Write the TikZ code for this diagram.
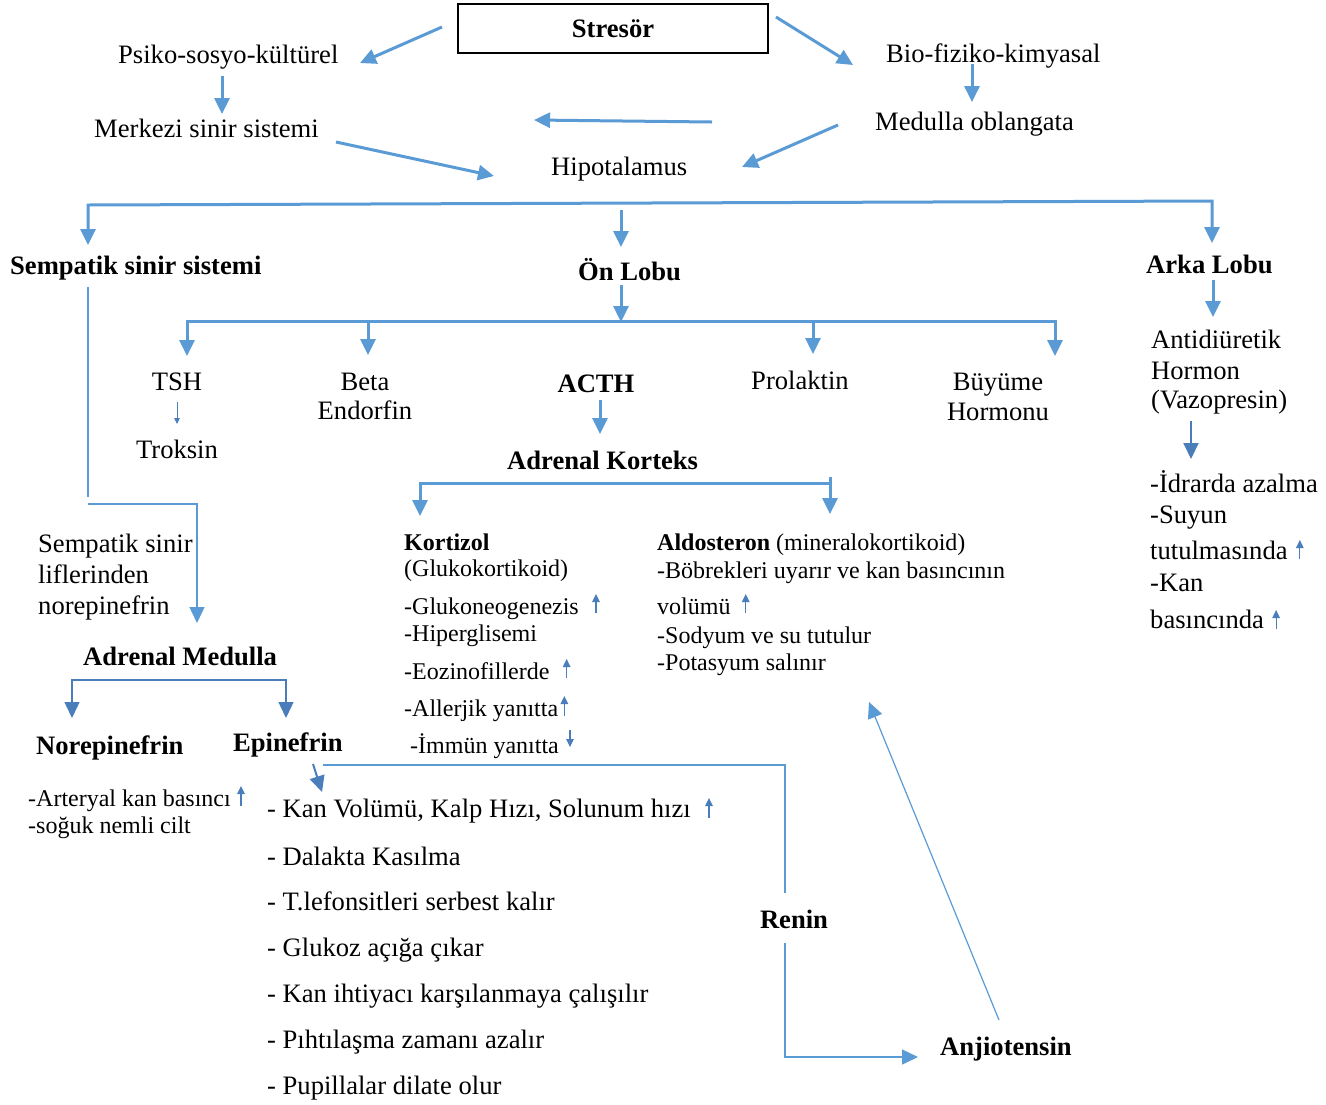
\documentclass[tikz,border=0pt]{standalone}
\usepackage{fontspec}
\setmainfont{Liberation Serif}
\usetikzlibrary{arrows.meta,calc}
\definecolor{cb}{RGB}{91,155,213}
\definecolor{cd}{RGB}{74,126,187}
\begin{document}
\begin{tikzpicture}[x=1pt,y=-1pt,
  T/.style={inner sep=0pt, font=\fontsize{26.6}{30}\selectfont},
  TB/.style={inner sep=0pt, font=\fontsize{26.6}{30}\selectfont\bfseries},
  S/.style={inner sep=0pt, font=\fontsize{24}{28}\selectfont},
  SB/.style={inner sep=0pt, font=\fontsize{24}{28}\selectfont\bfseries},
  arr/.style={draw=cb, line width=3pt, line join=miter, -{Triangle[length=16pt,width=15pt]}},
  barr/.style={draw=cb, line width=3pt, line join=miter, {Triangle[length=16pt,width=15pt]}-{Triangle[length=16pt,width=15pt]}},
  thinl/.style={draw=cb, line width=1.4pt, line join=miter},
  thinarr/.style={draw=cb, line width=1.4pt, line join=miter, -{Triangle[length=16pt,width=15pt]}},
  darr/.style={draw=cd, line width=2pt, -{Triangle[length=16pt,width=15pt]}},
  dbarr/.style={draw=cd, line width=1.4pt, line join=miter, {Triangle[length=16pt,width=15pt]}-{Triangle[length=16pt,width=15pt]}},
  smallarr/.style={draw=cd, line width=1.2pt, -{Triangle[length=8pt,width=7.5pt]}},
]
\useasboundingbox (0,0) rectangle (1326,1104);
\fill[white] (0,0) rectangle (1326,1104);

% top part
\node[draw=black, line width=1.6pt, minimum width=310pt, minimum height=49pt, inner sep=0pt,
      font=\fontsize{26.6}{30}\selectfont\bfseries] (stres) at (613,28.5) {Stresör};
\node[T, anchor=base west] (psiko) at (118,63) {Psiko-sosyo-kültürel};
\node[T, anchor=base west] (bio) at (886,62) {Bio-fiziko-kimyasal};
\node[T, anchor=base west] (merk) at (94,137) {Merkezi sinir sistemi};
\node[T, anchor=base west] (medul) at (875,130) {Medulla oblangata};
\node[T, anchor=base west] (hipo) at (551,175) {Hipotalamus};

\coordinate (c1) at (442,27);  \coordinate (c2) at (360,63);
\coordinate (c3) at (776,17);  \coordinate (c4) at (853,65);
\coordinate (c5) at (222,76);  \coordinate (c6) at (222,114);
\coordinate (c7) at (972,64);  \coordinate (c8) at (972,102);
\coordinate (c9) at (712,122); \coordinate (c10) at (534,120);
\coordinate (c11) at (336,142); \coordinate (c12) at (494,176);
\coordinate (c13) at (838,125); \coordinate (c14) at (742,167);
\draw[arr] (c1) -- (c2);
\draw[arr] (c3) -- (c4);
\draw[arr] (c5) -- (c6);
\draw[arr] (c7) -- (c8);
\draw[arr] (c9) -- (c10);
\draw[arr] (c11) -- (c12);
\draw[arr] (c13) -- (c14);

% second level
\node[TB, anchor=base west] (semp) at (10,274) {Sempatik sinir sistemi};
\node[TB, anchor=base west] (onlob) at (578,280) {Ön Lobu};
\node[TB, anchor=base west] (arka) at (1146,273) {Arka Lobu};
\coordinate (b1) at (88,245); \coordinate (b2) at (88,205);
\coordinate (b3) at (1212,201); \coordinate (b4) at (1212,243);
\draw[barr] (b1) -- (b2) -- (b3) -- (b4);
\coordinate (o1) at (621,210); \coordinate (o2) at (621,247);
\draw[arr] (o1) -- (o2);

% on lobu branches
\coordinate (o3) at (621,285); \coordinate (o4) at (621,322);
\draw[arr] (o3) -- (o4);
\coordinate (t1) at (187,356); \coordinate (t2) at (187,321);
\coordinate (t3) at (1055,321); \coordinate (t4) at (1055,356);
\draw[barr] (t1) -- (t2) -- (t3) -- (t4);
\coordinate (be1) at (368,321); \coordinate (be2) at (368,355);
\draw[arr] (be1) -- (be2);
\coordinate (pr1) at (813,321); \coordinate (pr2) at (813,354);
\draw[arr] (pr1) -- (pr2);

\node[T, anchor=base] (tsh) at (177,390) {TSH};
\node[T, anchor=base] (trok) at (177,458) {Troksin};
\draw[draw=cd, line width=1pt, -{Triangle[length=6pt,width=5.5pt]}] (tsh.south) ++(0,12) coordinate (ts1) -- (177,424) coordinate (ts2);
\node[T, anchor=base] (beta) at (365,390) {Beta};
\node[T, anchor=base] (endo) at (365,419) {Endorfin};
\node[TB, anchor=base] (acth) at (596,392) {ACTH};
\node[T, anchor=base] (prol) at (800,389) {Prolaktin};
\node[T, anchor=base] (buy1) at (998,390) {Büyüme};
\node[T, anchor=base] (buy2) at (998,420) {Hormonu};

\coordinate (ac1) at (600,400); \coordinate (ac2) at (600,434);
\draw[arr] (ac1) -- (ac2);
\node[TB, anchor=base west] (adrk) at (507,469) {Adrenal Korteks};

% arka lobu
\coordinate (ar1) at (1213,280); \coordinate (ar2) at (1213,317);
\draw[arr] (ar1) -- (ar2);
\node[T, anchor=base west] (adh1) at (1151,348) {Antidiüretik};
\node[T, anchor=base west] (adh2) at (1151,379) {Hormon};
\node[T, anchor=base west] (adh3) at (1151,408) {(Vazopresin)};
\coordinate (ad1) at (1191,421); \coordinate (ad2) at (1191,459);
\draw[darr] (ad1) -- (ad2);
\node[T, anchor=base west] (r1) at (1150,492) {-İdrarda azalma};
\node[T, anchor=base west] (r2) at (1150,523) {-Suyun};
\node[T, anchor=base west] (r3) at (1150,559) {tutulmasında};
\node[T, anchor=base west] (r4) at (1150,591) {-Kan};
\node[T, anchor=base west] (r5) at (1150,628) {basıncında};
\draw[smallarr] ($(r3.base east)+(12,0)$) -- ++(0,-19);
\draw[smallarr] ($(r5.base east)+(12,1)$) -- ++(0,-19);

% adrenal korteks branches
\coordinate (k1) at (420,516); \coordinate (k2) at (420,483);
\coordinate (k3) at (831,483);
\draw[draw=cb, line width=3pt, line join=miter, {Triangle[length=16pt,width=15pt]}-] (k1) -- (k2) -- (k3);
\coordinate (k4) at (830,477); \coordinate (k5) at (830,514);
\draw[arr] (k4) -- (k5);

\node[SB, anchor=base west] (kort) at (404,550) {Kortizol};
\node[S, anchor=base west] (gluk) at (404,576) {(Glukokortikoid)};
\node[S, anchor=base west] (gneo) at (404,614) {-Glukoneogenezis};
\node[S, anchor=base west] (hipg) at (404,641) {-Hiperglisemi};
\node[S, anchor=base west] (eoz) at (404,679) {-Eozinofillerde};
\node[S, anchor=base west] (aller) at (404,716) {-Allerjik yanıtta};
\node[S, anchor=base west] (immun) at (410,753) {-İmmün yanıtta};
\draw[smallarr] ($(gneo.base east)+(17,-1)$) -- ++(0,-19);
\draw[smallarr] ($(eoz.base east)+(17,-1)$) -- ++(0,-19);
\draw[smallarr] ($(aller.base east)+(6,0)$) -- ++(0,-20);
\draw[smallarr] ($(immun.base east)+(11,-23)$) -- ++(0,17);

\node[S, anchor=base west] (aldo) at (657,550) {\textbf{Aldosteron} (mineralokortikoid)};
\node[S, anchor=base west] (al2) at (657,578) {-Böbrekleri uyarır ve kan basıncının};
\node[S, anchor=base west] (al3) at (657,614) {volümü};
\node[S, anchor=base west] (al4) at (657,643) {-Sodyum ve su tutulur};
\node[S, anchor=base west] (al5) at (657,670) {-Potasyum salınır};
\draw[smallarr] ($(al3.base east)+(15,-1)$) -- ++(0,-19);

% sempatik branch
\node[T, anchor=base west] (ss1) at (38,552) {Sempatik sinir};
\node[T, anchor=base west] (ss2) at (38,583) {liflerinden};
\node[T, anchor=base west] (ss3) at (38,614) {norepinefrin};
\coordinate (s1) at (88,287); \coordinate (s2) at (88,497);
\draw[thinl] (s1) -- (s2);
\coordinate (s3) at (88,504); \coordinate (s4) at (197,504); \coordinate (s5) at (197,623);
\draw[thinarr] (s3) -- (s4) -- (s5);

\node[TB, anchor=base west] (admed) at (83,665) {Adrenal Medulla};
\coordinate (m1) at (72,718); \coordinate (m2) at (72,680);
\coordinate (m3) at (286,680); \coordinate (m4) at (286,718);
\draw[dbarr] (m1) -- (m2) -- (m3) -- (m4);

\node[TB, anchor=base west] (norep) at (36,754) {Norepinefrin};
\node[TB, anchor=base west] (epin) at (233,751) {Epinefrin};
\node[S, anchor=base west] (art) at (28,806) {-Arteryal kan basıncı};
\node[S, anchor=base west] (cilt) at (28,833) {-soğuk nemli cilt};
\draw[smallarr] ($(art.base east)+(10,0)$) -- ++(0,-20);

\coordinate (e1) at (313,764); \coordinate (e2) at (322,792);
\draw[darr] (e1) -- (e2);

\node[T, anchor=base west] (l1) at (267,817) {- Kan Volümü, Kalp Hızı, Solunum hızı};
\node[T, anchor=base west] (l2) at (267,865) {- Dalakta Kasılma};
\node[T, anchor=base west] (l3) at (267,910) {- T.lefonsitleri serbest kalır};
\node[T, anchor=base west] (l4) at (267,956) {- Glukoz açığa çıkar};
\node[T, anchor=base west] (l5) at (267,1002) {- Kan ihtiyacı karşılanmaya çalışılır};
\node[T, anchor=base west] (l6) at (267,1048) {- Pıhtılaşma zamanı azalır};
\node[T, anchor=base west] (l7) at (267,1094) {- Pupillalar dilate olur};
\draw[smallarr] ($(l1.base east)+(18,1)$) -- ++(0,-20);

% renin / anjiotensin
\node[TB, anchor=base] (renin) at (794,928) {Renin};
\node[TB, anchor=base west] (anj) at (940,1055) {Anjiotensin};
\coordinate (n1) at (323,765); \coordinate (n2) at (785,765); \coordinate (n3) at (785,893);
\draw[thinl] (n1) -- (n2) -- (n3);
\coordinate (n4) at (785,943); \coordinate (n5) at (785,1057); \coordinate (n6) at (918,1057);
\draw[thinarr] (n4) -- (n5) -- (n6);
\coordinate (a1) at (999,1020); \coordinate (a2) at (869,702);
\draw[draw=cb, line width=1.2pt, -{Triangle[length=16pt,width=15pt]}] (a1) -- (a2);
\end{tikzpicture}
\end{document}
